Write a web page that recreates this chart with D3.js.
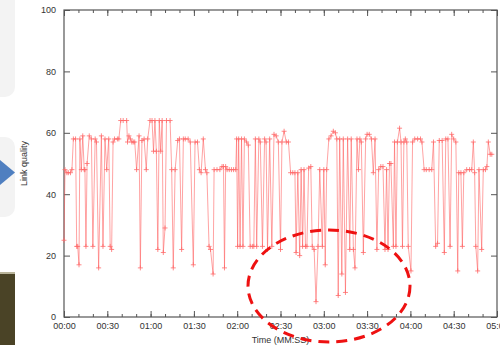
<!DOCTYPE html>
<html>
<head>
<meta charset="utf-8">
<script src="https://cdn.jsdelivr.net/npm/d3@7"></script>
<style>
  body { margin: 0; background: #fff; }
  svg { display: block; font-family: "Liberation Sans", Arial, sans-serif; }
</style>
</head>
<body>
<svg id="chart" width="500" height="345"></svg>
<script>

// sample times, in seconds from the start of the run
var seconds = [
  0, 0.7, 2, 3, 4.5, 5.5, 6.5, 8, 8.8, 9.5, 10.4, 11, 12, 13, 14, 14.5, 15.2, 16, 17.5, 19,
  20, 21.6, 22.5, 24, 25.9, 27, 28.4, 29.6, 31, 32, 33, 34, 35, 37, 38, 39.3, 41, 43.4, 44, 45,
  46, 47, 48, 49, 50.3, 52, 52.9, 54, 55.5, 57, 58, 59.6, 61, 62, 63, 64, 65, 66, 67, 68,
  68.8, 70, 71, 73.5, 74.6, 75.7, 77, 78.8, 80, 81.5, 82.7, 84, 86, 87.5, 89.6, 90.8, 92.5, 93.8, 95, 96.5,
  98, 99, 100.5, 101.5, 103.3, 104, 106, 108, 109.5, 110.5, 111.2, 112, 113, 114.5, 116, 117.5, 119, 119.6, 120.3, 121,
  122, 123, 124, 125, 126.5, 127.7, 129, 130.5, 131.5, 132.6, 133.5, 135, 136, 137.5, 139, 140, 141, 142.5, 144, 145.5,
  147, 148.5, 150, 151, 152.5, 154, 155.5, 157, 158.5, 160, 160.8, 162, 163.3, 164.3, 165.3, 166.3, 167.3, 168.3, 169.5, 171,
  172, 173.3, 174.6, 176, 177.2, 179, 180, 181, 182, 183.5, 185, 186.6, 188, 189, 190, 191, 192.5, 193.5, 195, 196.5,
  198, 199, 200.5, 201.6, 203, 204, 205, 206, 207.4, 209, 210, 211.5, 213, 214.3, 215.5, 216.8, 218, 219.5, 221, 222.4,
  223.5, 224.5, 225.5, 226.5, 228.2, 229, 230, 231, 232.5, 233.5, 234.5, 235.5, 236.5, 237.5, 238.5, 240.4, 241.5, 243, 245, 247,
  248, 249.5, 251, 253, 254.8, 256, 257.5, 258.8, 260, 262, 263.5, 264.5, 266, 267.5, 268.6, 270, 271.5, 272.8, 273.5, 275,
  276, 277, 279, 281, 282.5, 283.6, 284.5, 285.3, 286.6, 287.5, 289.4, 290.5, 292, 293, 294, 295.3, 296.4
]

// link quality, one per sample time
var quality = [
  25, 48, 47, 47, 47, 48, 58, 58, 23, 23, 17, 58, 48, 59, 48, 48, 23, 50, 59, 58,
  23, 58, 57, 16, 59, 23, 58, 48, 58, 23, 22, 57, 58, 58, 58, 64, 64, 64, 57, 59,
  58, 57, 57, 57, 48, 59, 16, 57.5, 58, 48, 58, 64, 64, 54, 64, 54, 22, 64, 54, 64,
  21, 29, 64, 64, 48, 16, 48, 57.5, 58, 22, 58, 58, 58, 57, 17, 57, 57, 48, 47, 58,
  48, 47, 23, 22, 14, 48, 48, 48, 49, 49, 16, 49, 48, 48, 48, 48, 48, 58, 23, 58,
  23, 58, 23, 58, 57, 56, 23, 23, 23, 58, 23, 58, 57, 23, 58, 57, 22, 58, 23, 59.5,
  59, 57, 22, 57, 60.5, 57, 57, 47, 47, 47, 21, 47, 20, 48, 23, 48, 23, 23, 48.5, 49,
  23, 22, 5, 23, 48, 23, 48, 17, 48, 58, 59, 60.5, 60, 58, 7, 58, 14, 58, 8, 58,
  22, 58, 22, 16, 58, 48, 58, 57, 21, 58, 59.5, 59.5, 58, 47, 58, 22, 48, 49, 49, 22,
  48, 22, 50, 50, 23, 57, 23, 57, 61.5, 57, 23, 57, 58, 57, 23, 15, 57, 58, 58, 58,
  57, 48, 48, 48, 48, 57, 23, 24, 57.5, 57.5, 21, 58, 58, 23, 59.5, 58, 57, 15, 47, 47,
  23, 47, 48, 48, 48, 57, 47, 23, 15, 48, 22, 48, 48, 49, 57, 53, 53
]

var x_major = [0, 30, 60, 90, 120, 150, 180, 210, 240, 270, 300]
var x_minor = d3.range(0, 301, 10)
var y_ticks = [0, 20, 40, 60, 80, 100]

var svg = d3.select("#chart")

// bits of the slide that sit left of the chart
svg.append("rect").attr("x", -20).attr("y", -10).attr("width", 35).attr("height", 107)
    .attr("rx", 10).style("fill", "#f3f3f3")
svg.append("rect").attr("x", -20).attr("y", 137).attr("width", 35).attr("height", 80)
    .attr("rx", 10).style("fill", "#f3f3f3")
svg.append("path").attr("d", "M0,160 L15,172.5 L0,185 Z").style("fill", "#4f7fc0")
svg.append("rect").attr("x", 0).attr("y", 273).attr("width", 15).attr("height", 72)
    .style("fill", "#4a4326")
svg.append("rect").attr("x", 0).attr("y", 272).attr("width", 15).attr("height", 2)
    .style("fill", "#b9b49a")

var plot_left = 64, plot_right = 497, plot_top = 10, plot_bottom = 317

var x = d3.scaleLinear().domain([0, 300]).range([plot_left, plot_right])
var y = d3.scaleLinear().domain([0, 100]).range([plot_bottom, plot_top])

function mmss(s) {
  var m = Math.floor(s / 60), r = s % 60
  return (m < 10 ? "0" : "") + m + ":" + (r < 10 ? "0" : "") + r
}

function style_axis(g) {
  g.select(".domain").remove()
  g.selectAll("line").style("stroke", "#555")
  g.selectAll("text").style("fill", "#333").style("font-size", "9px")
}

// minor x ticks, bottom and top
svg.append("g").attr("transform", "translate(0," + plot_bottom + ")")
    .call(d3.axisBottom(x).tickValues(x_minor).tickSize(-3).tickFormat(""))
    .call(style_axis)
svg.append("g").attr("transform", "translate(0," + plot_top + ")")
    .call(d3.axisTop(x).tickValues(x_minor).tickSize(-3).tickFormat(""))
    .call(style_axis)

// major x ticks
svg.append("g").attr("transform", "translate(0," + plot_bottom + ")")
    .call(d3.axisBottom(x).tickValues(x_major).tickSize(-6).tickPadding(6).tickFormat(mmss))
    .call(style_axis)
svg.append("g").attr("transform", "translate(0," + plot_top + ")")
    .call(d3.axisTop(x).tickValues(x_major).tickSize(-6).tickFormat(""))
    .call(style_axis)

// y ticks, left and right
svg.append("g").attr("transform", "translate(" + plot_left + ",0)")
    .call(d3.axisLeft(y).tickValues(y_ticks).tickSize(-6).tickPadding(8))
    .call(style_axis)
svg.append("g").attr("transform", "translate(" + plot_right + ",0)")
    .call(d3.axisRight(y).tickValues(y_ticks).tickSize(-6).tickFormat(""))
    .call(style_axis)

// frame
svg.append("rect")
    .attr("x", plot_left).attr("y", plot_top)
    .attr("width", plot_right - plot_left).attr("height", plot_bottom - plot_top)
    .style("fill", "none").style("stroke", "#555").style("stroke-width", 1.2)

var points = seconds.map(function(s, i) { return { t: s, v: quality[i] } })

var line = d3.line()
    .x(function(d) { return x(d.t) })
    .y(function(d) { return y(d.v) })

svg.append("path")
    .datum(points)
    .attr("d", line)
    .style("fill", "none")
    .style("stroke", "#ff5a5a")
    .style("stroke-opacity", 0.7)
    .style("stroke-width", 0.8)

svg.selectAll(".marker")
    .data(points)
  .enter().append("path")
    .attr("class", "marker")
    .attr("transform", function(d) { return "translate(" + x(d.t) + "," + y(d.v) + ")" })
    .attr("d", "M-2.5,0H2.5M0,-2.5V2.5")
    .style("stroke", "#ff6b6b")
    .style("stroke-width", 0.8)

// axis titles
svg.append("text")
    .attr("transform", "translate(27," + (plot_top + plot_bottom) / 2 + ") rotate(-90)")
    .attr("text-anchor", "middle")
    .style("font-size", "9px").style("fill", "#333")
    .text("Link quality")

svg.append("text")
    .attr("x", (plot_left + plot_right) / 2).attr("y", 343)
    .attr("text-anchor", "middle")
    .style("font-size", "9px").style("fill", "#333")
    .text("Time (MM:SS)")

// hand-drawn highlight over the low dips
svg.append("ellipse")
    .attr("cx", 329).attr("cy", 286).attr("rx", 81).attr("ry", 56)
    .style("fill", "none")
    .style("stroke", "#ee1111")
    .style("stroke-width", 3)
    .style("stroke-dasharray", "11,7")

</script>
</body>
</html>
